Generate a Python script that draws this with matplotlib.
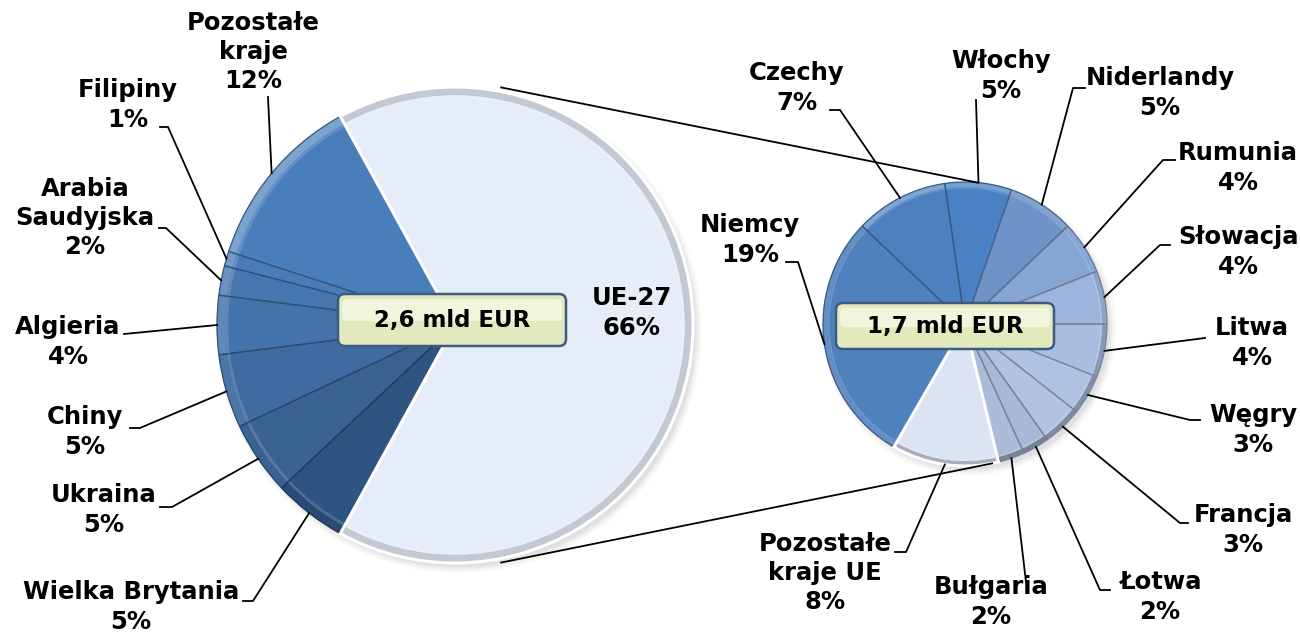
import matplotlib.pyplot as plt
import numpy as np
from matplotlib.patches import Wedge, Circle, FancyBboxPatch
from matplotlib.colors import to_rgb

plt.rcParams['font.family'] = ['DejaVu Sans']

# Main pie: export by destination (share of total, %)
main_labels = ['UE-27', 'Pozostałe\nkraje', 'Filipiny', 'Arabia\nSaudyjska', 'Algieria',
               'Chiny', 'Ukraina', 'Wielka Brytania']
main_values = [66, 12, 1, 2, 4, 5, 5, 5]
main_colors = ['#E6ECF8', '#4A7EBB', '#4A7BB6', '#4777B1', '#4473AC', '#3F6BA0', '#3A6394', '#2F5482']
main_total = '2,6 mld EUR'

# Secondary pie: breakdown of UE-27 (share of total, %)
eu_labels = ['Niemcy', 'Czechy', 'Włochy', 'Niderlandy', 'Rumunia', 'Słowacja', 'Litwa',
             'Węgry', 'Francja', 'Łotwa', 'Bułgaria', 'Pozostałe\nkraje UE']
eu_values = [19, 7, 5, 5, 4, 4, 4, 3, 3, 2, 2, 8]
eu_colors = ['#4F81BD', '#4D80C0', '#4A80C4', '#6F93C7', '#86A5D3', '#9DB5DD', '#A9BEE0',
             '#B0C2E2', '#B3C3DF', '#A8B8D6', '#ABBBD8', '#DCE3F3']
eu_total = '1,7 mld EUR'

W, H = 1300, 636


def py(y):
    # picture y (from top) -> axes y (from bottom)
    return H - y


# layout (pixel positions)
main_c, main_r = (455, py(325)), 238
eu_c, eu_r = (965, py(324)), 142

main_text_pos = [(632, 313), (253, 52), (128, 105), (85, 218), (68, 342), (85, 432), (104, 510), (131, 607)]
main_leaders = [None, [(268, 97)], [(160, 127), (168, 127)], [(159, 228), (166, 228)],
                [(124, 334)], [(130, 428), (140, 428)], [(160, 507), (172, 507)], [(243, 601), (253, 601)]]

eu_text_pos = [(750, 240), (797, 88), (1001, 76), (1160, 93), (1238, 168), (1238, 252), (1252, 343),
               (1253, 430), (1243, 530), (1160, 597), (991, 602), (825, 573)]
eu_leaders = [[(786, 262), (798, 262)], [(830, 110), (840, 110)], [(976, 100)], [(1085, 88), (1073, 88)],
              [(1175, 160), (1163, 160)], [(1170, 245), (1160, 245)], [(1205, 338)],
              [(1200, 420), (1190, 420)], [(1188, 523), (1180, 523)], [(1110, 590), (1100, 590)],
              [(1026, 582)], [(895, 552), (906, 552)]]


def shade(c, k):
    c = np.array(to_rgb(c))
    if k > 0:
        return tuple(c + (1 - c) * k)
    return tuple(c * (1 + k))


fig = plt.figure(figsize=(W / 100, H / 100), dpi=100)
ax = fig.add_axes([0, 0, 1, 1])


def draw_pie(values, colors, center, radius, startangle, counterclock):
    # soft shadow
    for i, a in enumerate([0.04, 0.05, 0.07, 0.09]):
        ax.add_patch(Circle((center[0] + 4, center[1] - 5), radius + 5 - 2 * i,
                            color='#808080', alpha=a, lw=0, zorder=0))
    wedges, _ = ax.pie(values, colors=colors, center=center, radius=radius,
                       startangle=startangle, counterclock=counterclock,
                       wedgeprops=dict(lw=0))
    for w, c in zip(wedges, colors):
        t1, t2 = w.theta1, w.theta2
        mid = (t1 + t2) / 2
        k = 0.3 * np.cos(np.radians(mid - 120))
        # bevel rim
        ax.add_patch(Wedge(center, radius, t1, t2, width=radius * 0.035,
                           color=shade(c, k), lw=0, zorder=2))
        ax.add_patch(Wedge(center, radius * 0.965, t1, t2, width=radius * 0.012,
                           color=shade(c, 0.25), lw=0, zorder=2, alpha=0.6))
        light = np.mean(to_rgb(c)) > 0.8
        ax.add_patch(Wedge(center, radius, t1, t2, fill=False,
                           edgecolor='white' if light else shade(c, -0.3),
                           lw=2.2 if light else 0.9, zorder=3 if not light else 3.5))
    return wedges


def edge_point(w, center, radius):
    mid = np.radians((w.theta1 + w.theta2) / 2)
    return center[0] + radius * np.cos(mid), center[1] + radius * np.sin(mid)


main_wedges = draw_pie(main_values, main_colors, main_c, main_r, -360 * main_values[0] / 100 / 2, True)
eu_wedges = draw_pie(eu_values, eu_colors, eu_c, eu_r, 240, False)

# connector lines between the pies
for a1, a2 in [(79, 85), (-79, -79)]:
    p1 = (main_c[0] + (main_r + 4) * np.cos(np.radians(a1)), main_c[1] + (main_r + 4) * np.sin(np.radians(a1)))
    p2 = (eu_c[0] + eu_r * np.cos(np.radians(a2)), eu_c[1] + eu_r * np.sin(np.radians(a2)))
    ax.plot([p1[0], p2[0]], [p1[1], p2[1]], color='black', lw=1.3, zorder=4)

lbl_kw = dict(ha='center', va='center', fontsize=17.5, fontweight='bold',
              linespacing=1.27, color='black', zorder=6)

for lab, val, pos, lead, w in zip(main_labels, main_values, main_text_pos, main_leaders, main_wedges):
    ax.text(pos[0], py(pos[1]), f'{lab}\n{val}%', **lbl_kw)
    if lead:
        ex, ey = edge_point(w, main_c, main_r)
        xs = [p[0] for p in lead] + [ex]
        ys = [py(p[1]) for p in lead] + [ey]
        ax.plot(xs, ys, color='black', lw=1.3, zorder=5)

for lab, val, pos, lead, w in zip(eu_labels, eu_values, eu_text_pos, eu_leaders, eu_wedges):
    ax.text(pos[0], py(pos[1]), f'{lab}\n{val}%', **lbl_kw)
    ex, ey = edge_point(w, eu_c, eu_r)
    xs = [p[0] for p in lead] + [ex]
    ys = [py(p[1]) for p in lead] + [ey]
    ax.plot(xs, ys, color='black', lw=1.3, zorder=5)

# total value boxes
for txt, (cx, cy), bw, bh in [(main_total, (452, 320), 228, 52), (eu_total, (945, 326), 218, 46)]:
    box = FancyBboxPatch((cx - bw / 2, py(cy) - bh / 2), bw, bh,
                         boxstyle='round,pad=0,rounding_size=7',
                         facecolor='#E2EABD', edgecolor='#3E5A80', lw=1.8, zorder=7)
    ax.add_patch(box)
    ax.add_patch(FancyBboxPatch((cx - bw / 2 + 4, py(cy) - 1), bw - 8, bh / 2 - 4,
                                boxstyle='round,pad=0,rounding_size=5',
                                facecolor='#F1F5DC', edgecolor='none', lw=0, zorder=7))
    ax.text(cx, py(cy) - 1, txt, ha='center', va='center', fontsize=16.5,
            fontweight='bold', color='black', zorder=8)

ax.set_xlim(0, W)
ax.set_ylim(0, H)
ax.set_aspect('equal')
ax.axis('off')

fig.savefig('out.png', dpi=100, facecolor='white')
